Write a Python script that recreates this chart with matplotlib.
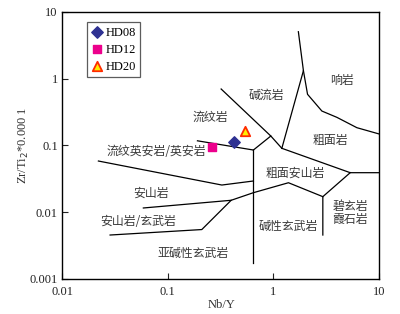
import numpy as np
import matplotlib
matplotlib.use("Agg")
import matplotlib.pyplot as plt

# sample points (Nb/Y, Zr/TiO2*0.0001)
samples = ["HD08", "HD12", "HD20"]
nb_y = [0.427, 0.261, 0.543]
zr_ti = [0.113, 0.0955, 0.164]

# field boundaries, each as a list of (x, y) vertices
boundaries = [
    [(0.191, 0.117), (0.646, 0.0851)],
    [(0.320, 0.700), (0.944, 0.138), (1.20, 0.0903)],
    [(0.944, 0.138), (0.646, 0.0851)],
    [(0.646, 0.0851), (0.646, 0.0017)],
    [(1.72, 5.06), (1.92, 1.318), (1.20, 0.0903)],
    [(1.92, 1.318), (2.10, 0.583), (2.87, 0.327), (3.98, 0.263), (6.15, 0.184), (10.0, 0.148)],
    [(1.20, 0.0903), (5.32, 0.0389), (10.0, 0.0389)],
    [(5.32, 0.0389), (2.93, 0.0170), (2.93, 0.00452)],
    [(2.93, 0.0170), (1.386, 0.0275), (0.646, 0.0195), (0.398, 0.0150), (0.0588, 0.0115)],
    [(0.398, 0.0150), (0.210, 0.00546), (0.0285, 0.00452)],
    [(0.0221, 0.0582), (0.325, 0.0254), (0.646, 0.0292)],
]

# field names and where they sit
field_names = ["响岩", "碱流岩", "流纹岩", "粗面岩", "流纹英安岩/英安岩", "安山岩",
               "安山岩/玄武岩", "亚碱性玄武岩", "粗面安山岩", "碱性玄武岩", "碧玄岩\n霞石岩"]
field_x = [4.43, 0.865, 0.252, 3.44, 0.0787, 0.0695, 0.0527, 0.174, 1.60, 1.386, 5.32]
field_y = [0.955, 0.555, 0.266, 0.120, 0.0803, 0.0193, 0.00716, 0.00243, 0.038, 0.00616, 0.00966]

plt.rcParams['font.family'] = ['Liberation Serif', 'DejaVu Serif']
cjk = ['Noto Sans CJK SC', 'DejaVu Sans']

fig = plt.figure(figsize=(4.0, 3.14), dpi=100)
ax = fig.add_axes([0.155, 0.1124, 0.793, 0.8494])

# draw the field boundaries
for seg in boundaries:
    xs = [p[0] for p in seg]
    ys = [p[1] for p in seg]
    ax.plot(xs, ys, color='black', linewidth=0.9)

# field labels
for name, fx, fy in zip(field_names, field_x, field_y):
    ax.text(fx, fy, name, family=cjk, fontsize=8.6, color='#3a3a3a',
            ha='center', va='center', linespacing=1.0)

# sample markers
ax.scatter(nb_y[0], zr_ti[0], marker='D', s=34, color='#2e3192', zorder=5, label=samples[0])
ax.scatter(nb_y[1], zr_ti[1], marker='s', s=34, color='#ec008c', zorder=5, label=samples[1])
ax.scatter(nb_y[2], zr_ti[2], marker='^', s=46, facecolor='#ffee00', edgecolor='#ff2a00',
           linewidth=1.3, zorder=5, label=samples[2])

ax.set_xscale('log')
ax.set_yscale('log')
ax.set_xlim(0.01, 10)
ax.set_ylim(0.001, 10)
ax.set_xticks([0.01, 0.1, 1, 10])
ax.set_xticklabels(['0.01', '0.1', '1', '10'])
ax.set_yticks([0.001, 0.01, 0.1, 1, 10])
ax.set_yticklabels(['0.001', '0.01', '0.1', '1', '10'])
ax.minorticks_off()
ax.tick_params(axis='both', direction='in', length=4, width=0.8, labelsize=9, colors='#222222')
ax.tick_params(axis='x', pad=5)
ax.tick_params(axis='y', pad=3)
for s in ax.spines.values():
    s.set_linewidth(1.0)

ax.set_xlabel('Nb/Y', fontsize=9, color='#333333')
ax.set_ylabel('Zr/Ti$_2$*0.000 1', fontsize=9, color='#333333')
ax.xaxis.set_label_coords(0.504, -0.075)
ax.yaxis.set_label_coords(-0.098, 0.5)

leg = ax.legend(loc='upper left', bbox_to_anchor=(0.08, 0.962), frameon=True, fancybox=False,
                edgecolor='#333333', fontsize=9, handletextpad=0.2, borderpad=0.35,
                labelspacing=0.4, handlelength=0.9, borderaxespad=0)
leg.get_frame().set_linewidth(0.9)

fig.savefig('out.png', dpi=100)
